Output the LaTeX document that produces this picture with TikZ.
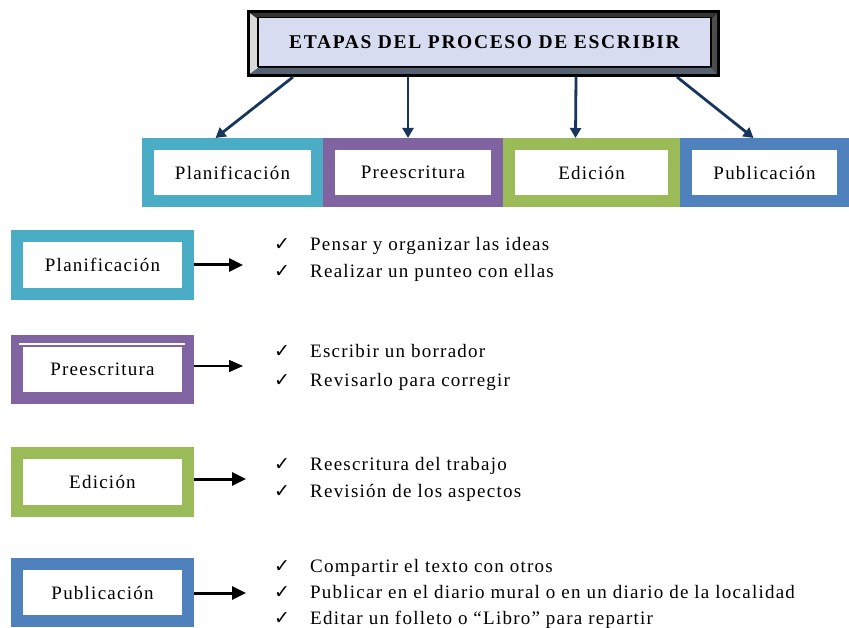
\documentclass[tikz,border=0pt]{standalone}
\usepackage{fontspec}
\setmainfont{Liberation Serif}
\newfontfamily\chkfont{DejaVu Sans}
\newfontfamily\spacedfont[LetterSpace=6.5]{Liberation Serif}
\newfontfamily\titlefont[LetterSpace=8.5]{Liberation Serif}
\usetikzlibrary{arrows.meta,calc}
\definecolor{cteal}{HTML}{4BACC6}
\definecolor{cpurple}{HTML}{8064A2}
\definecolor{cgreen}{HTML}{9BBB59}
\definecolor{cblue}{HTML}{4F81BD}
\definecolor{cnavy}{HTML}{17365D}
\definecolor{cface}{HTML}{D8DCF0}
\tikzset{
  stagebox/.style={line width=12pt, fill=white, inner sep=0pt, font=\spacedfont\fontsize{19}{21}\selectfont},
  navyarrow/.style={cnavy, line width=2.8pt, -{Triangle[length=10pt,width=11pt]}},
  blackarrow/.style={black, line width=3pt, -{Triangle[length=14pt,width=13pt]}},
  thinarrow/.style={black, line width=1.5pt, -{Triangle[length=14pt,width=12pt]}},
  chk/.style={inner sep=0pt, anchor=base, font=\chkfont\fontsize{19}{21}\selectfont},
  item/.style={inner sep=0pt, anchor=base west, font=\spacedfont\fontsize{19}{21}\selectfont}
}
\begin{document}
\begin{tikzpicture}[x=1pt,y=-1pt]
\useasboundingbox (0,0) rectangle (849,628);
% title frame
\node[fill=black, minimum width=473pt, minimum height=67pt, inner sep=0pt, outer sep=0pt] (frame) at (483.5,43.5) {};
\fill[gray!30] (250,13) -- (258,19) -- (258,68) -- (250,74) -- cycle;
\fill[gray!60!black] (717,13) -- (711,19) -- (711,68) -- (717,74) -- cycle;
\fill[black!80] (250,13) -- (717,13) -- (711,19) -- (258,19) -- cycle;
\fill[cnavy!40!gray] (250,74) -- (717,74) -- (711,68) -- (258,68) -- cycle;
\node[fill=cface, draw=black, line width=1.5pt, minimum width=453pt, minimum height=49pt, inner sep=0pt,
  font=\titlefont\bfseries\fontsize{19.5}{21}\selectfont] (title) at (484.5,42) {ETAPAS DEL PROCESO DE ESCRIBIR};
% top boxes
\node[stagebox, draw=cteal, minimum width=169pt, minimum height=57pt] (p1) at (232.5,172.5) {Planificación};
\node[stagebox, draw=cpurple, minimum width=168pt, minimum height=57pt] (p2) at (413,172.5) {Preescritura};
\node[stagebox, draw=cgreen, minimum width=165pt, minimum height=57pt] (p3) at (591.5,172.5) {Edición};
\node[stagebox, draw=cblue, minimum width=157pt, minimum height=57pt] (p4) at (764.5,172.5) {Publicación};
% arrows from title
\draw[navyarrow] ($(frame.south west)+(46,0)$) -- ($(p1.north)+(-17,0)$);
\draw[navyarrow] ($(frame.south west)+(161,0)$) -- ($(p2.north)+(-5,0)$);
\draw[navyarrow] ($(frame.south west)+(329,0)$) -- ($(p3.north)+(-16,0)$);
\draw[navyarrow] ($(frame.south west)+(430,0)$) -- ($(p4.north)+(-11,0)$);
% left boxes
\node[stagebox, draw=cteal, minimum width=171pt, minimum height=58pt] (l1) at (102.5,265) {Planificación};
\node[stagebox, draw=cpurple, minimum width=171pt, minimum height=57pt] (l2) at (102.5,369.5) {Preescritura};
\draw[white, line width=1.5pt] (19,344) -- (185,344);
\node[stagebox, draw=cgreen, minimum width=171pt, minimum height=58pt] (l3) at (102.5,482) {Edición};
\node[stagebox, draw=cblue, minimum width=171pt, minimum height=57pt] (l4) at (102.5,592.5) {Publicación};
% left arrows
\coordinate (a1) at (243,265);
\coordinate (a2) at (243,366);
\coordinate (a3) at (246,479);
\coordinate (a4) at (246,593);
\draw[blackarrow] (l1.east |- a1) -- (a1);
\draw[thinarrow] (l2.east |- a2) -- (a2);
\draw[blackarrow] (l3.east |- a3) -- (a3);
\draw[blackarrow] (l4.east |- a4) -- (a4);
% items
\node[chk] (c1) at (282,251) {✓};
\node[item] (i1) at (310,251) {Pensar y organizar las ideas};
\node[chk] (c2) at (282,278) {✓};
\node[item] (i2) at (310,278) {Realizar un punteo con ellas};
\node[chk] (c3) at (282,358) {✓};
\node[item] (i3) at (310,358) {Escribir un borrador};
\node[chk] (c4) at (282,386) {✓};
\node[item] (i4) at (310,386) {Revisarlo para corregir};
\node[chk] (c5) at (282,470) {✓};
\node[item] (i5) at (310,470) {Reescritura del trabajo};
\node[chk] (c6) at (282,497) {✓};
\node[item] (i6) at (310,497) {Revisión de los aspectos};
\node[chk] (c7) at (282,572) {✓};
\node[item] (i7) at (310,572) {Compartir el texto con otros};
\node[chk] (c8) at (282,598) {✓};
\node[item] (i8) at (310,598) {Publicar en el diario mural o en un diario de la localidad};
\node[chk] (c9) at (282,624) {✓};
\node[item] (i9) at (310,624) {Editar un folleto o “Libro” para repartir};
\end{tikzpicture}
\end{document}
